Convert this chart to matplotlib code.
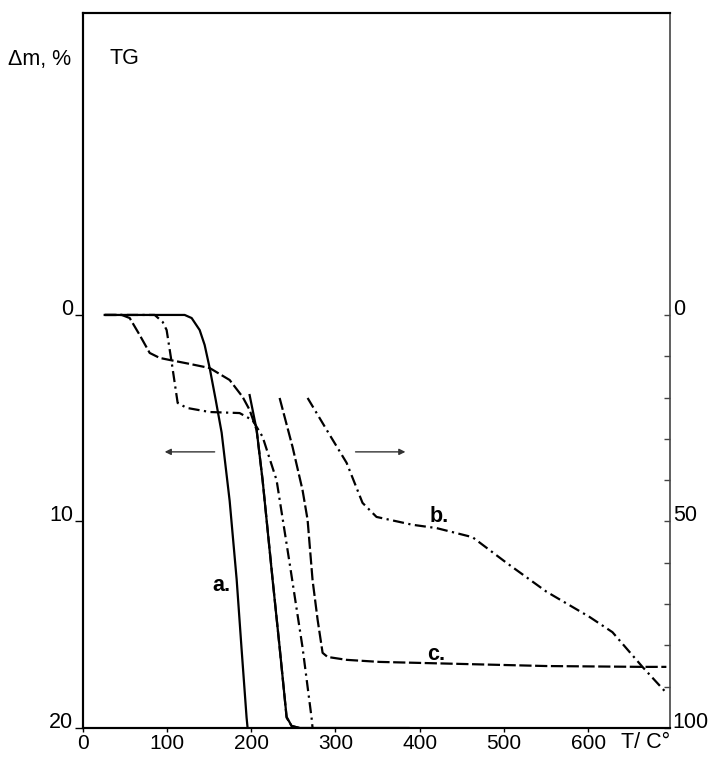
import matplotlib
matplotlib.use("Agg")
import matplotlib.pyplot as plt

plt.rcParams['font.family'] = ['Liberation Sans', 'DejaVu Sans']

# ---- data (left axis, 0-20 % scale) ----
a_left_T = [26.1, 121.0, 129.3, 138.8, 144.7, 150.7, 157.8, 164.9, 174.4, 182.7, 188.6, 194.5, 195.7]
a_left_m = [0, 0, 0.15, 0.73, 1.45, 2.57, 4.1, 5.7, 9.0, 12.8, 16.2, 19.5, 20]

c_left_T = [26.1, 46.3, 55.8, 67.6, 79.5, 91.3, 103.2, 126.9, 150.7, 174.4, 189.8, 198.1,
            206.4, 213.5, 225.4, 233.7, 239.6, 242.0, 247.9, 257.4]
c_left_m = [0, 0, 0.15, 0.97, 1.84, 2.08, 2.18, 2.37, 2.57, 3.15, 3.97, 4.6,
            5.57, 8.0, 12.8, 16.1, 18.5, 19.5, 19.9, 20]

b_left_T = [26.1, 85.4, 94.9, 99.6, 105.6, 112.7, 123.4, 150.7, 186.2, 201.7, 213.5,
            230.1, 245.5, 260.9, 271.6, 272.8]
b_left_m = [0, 0, 0.34, 0.73, 2.3, 4.26, 4.5, 4.7, 4.75, 5.1, 5.9,
            8.0, 12.0, 16.1, 19.5, 20]

# ---- data (right axis, 0-100 % scale) ----
a_right_T = [198.1, 206.4, 213.5, 225.4, 233.7, 239.6, 242.0, 247.9, 257.4, 386.7]
a_right_m = [19.4, 27.8, 40.0, 64.2, 80.4, 92.5, 97.3, 99.5, 100, 100]

c_right_T = [233.7, 249.1, 260.9, 266.9, 272.8, 278.8, 284.7, 290.6, 313.2, 352.3,
             411.6, 550.4, 664.3, 692.7]
c_right_m = [20.1, 32.0, 42.4, 49.6, 64.2, 73.8, 81.8, 82.8, 83.5, 84.0,
             84.3, 85.0, 85.2, 85.2]

b_right_T = [266.9, 293.0, 313.2, 332.1, 348.7, 391.4, 419.9, 462.6, 502.9, 550.4,
             601.4, 628.7, 664.3, 692.7]
b_right_m = [20.1, 29.0, 35.8, 45.5, 48.9, 50.8, 51.6, 53.8, 60.0, 67.0,
             73.1, 76.8, 85.2, 91.5]

x_ticks = [0, 100, 200, 300, 400, 500, 600]
left_ticks = [0, 10, 20]
right_ticks = list(range(0, 101, 10))
right_labels = ['0' if v == 0 else ('50' if v == 50 else ('100' if v == 100 else '')) for v in right_ticks]

# ---- figure ----
W, H = 712, 758
fig = plt.figure(figsize=(W / 100, H / 100), dpi=100)
L, R, T, B = 82.7, 670, 12.8, 728
ax = fig.add_axes([L / W, 1 - B / H, (R - L) / W, (B - T) / H])
ax2 = ax.twinx()

FS = 15.5
lw = 1.6
solid = '-'
dashed = (0, (5.5, 1.6))
dashdot = (0, (5.0, 2.0, 1.0, 2.0))

ax.plot(a_left_T, a_left_m, color='black', lw=lw, linestyle=solid)
ax.plot(c_left_T, c_left_m, color='black', lw=lw, linestyle=dashed)
ax.plot(b_left_T, b_left_m, color='black', lw=lw, linestyle=dashdot)

ax2.plot(a_right_T, a_right_m, color='black', lw=lw, linestyle=solid)
ax2.plot(c_right_T, c_right_m, color='black', lw=lw, linestyle=dashed)
ax2.plot(b_right_T, b_right_m, color='black', lw=lw, linestyle=dashdot)

ax.set_xlim(0, 697)
ax.set_ylim(20, -14.63)
ax2.set_ylim(100, -14.63 * 5)

# ticks
ax.set_xticks(x_ticks)
ax.set_xticklabels([str(v) for v in x_ticks])
ax.set_yticks(left_ticks)
ax.set_yticklabels([str(v) for v in left_ticks])
ax.tick_params(axis='x', direction='out', length=3, width=1, pad=1, labelsize=15)
ax.tick_params(axis='y', direction='out', length=6, width=1, pad=1, labelsize=FS)
for t in ax.get_yticklabels():
    t.set_verticalalignment('baseline')

ax2.set_yticks(right_ticks)
ax2.set_yticklabels(right_labels)
ax2.tick_params(axis='y', direction='in', length=4, width=1, pad=2, labelsize=FS,
                color='#444444')
for t in ax2.get_yticklabels():
    t.set_verticalalignment('baseline')

for s in ['left', 'top', 'bottom']:
    ax.spines[s].set_linewidth(1.5)
    ax2.spines[s].set_linewidth(1.5)
ax.spines['right'].set_visible(False)
ax2.spines['right'].set_linewidth(1.2)
ax2.spines['right'].set_color('#444444')

# annotations
ax.text(164.9, 13.1, 'a.', fontsize=FS, fontweight='bold', ha='center', va='center')
ax.text(423.5, 9.78, 'b.', fontsize=FS, fontweight='bold', ha='center', va='center')
ax.text(420.0, 16.46, 'c.', fontsize=FS, fontweight='bold', ha='center', va='center')

arrow_kw = dict(arrowstyle='-|>', color='#333333', lw=1.0, mutation_scale=9,
                shrinkA=0, shrinkB=0)
ax.annotate('', xy=(97.3, 6.63), xytext=(156.6, 6.63), arrowprops=arrow_kw)
ax.annotate('', xy=(383.0, 6.63), xytext=(323.8, 6.63), arrowprops=arrow_kw)

fig.text(8 / W, 1 - 59 / H, 'Δm, %', fontsize=FS, ha='left', va='center')
fig.text(110 / W, 1 - 59 / H, 'TG', fontsize=FS, ha='left', va='center')
fig.text(646 / W, 1 - 742 / H, 'T/ C°', fontsize=FS, ha='center', va='center')

fig.savefig('out.png', dpi=100, facecolor='white')
